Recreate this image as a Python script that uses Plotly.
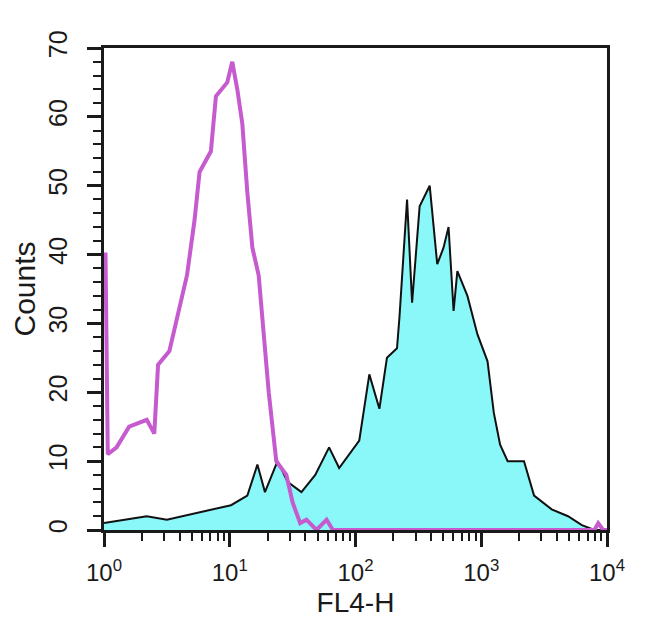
import plotly.graph_objects as go

# log10 of FL4-H channel position and counts
isotype_log = [0.0, 0.012, 0.03, 0.10, 0.20, 0.34, 0.40, 0.43, 0.52, 0.60, 0.66, 0.72, 0.76,
               0.85, 0.89, 0.98, 1.02, 1.06, 1.10, 1.14, 1.18, 1.23, 1.26, 1.31, 1.37,
               1.45, 1.50, 1.56, 1.61, 1.69, 1.77, 1.82, 3.90, 3.93, 3.97, 4.0]
isotype_counts = [40, 40, 11, 12, 15, 16, 14, 24, 26, 32, 37, 45, 52,
                  55, 63, 65, 68, 64, 59, 49, 41, 37, 31, 20, 10,
                  8, 4, 1, 1.5, 0, 1.5, 0, 0, 1, 0, 0]

stained_log = [0.0, 0.18, 0.34, 0.50, 0.74, 1.01, 1.14, 1.22, 1.28, 1.38, 1.46, 1.57, 1.68,
               1.79, 1.87, 2.03, 2.11, 2.19, 2.25, 2.33, 2.35, 2.41, 2.45, 2.51, 2.59,
               2.65, 2.70, 2.74, 2.78, 2.81, 2.89, 2.97, 3.05, 3.10, 3.15, 3.21, 3.34,
               3.42, 3.56, 3.69, 3.80, 3.90, 4.0]
stained_counts = [1, 1.5, 2, 1.5, 2.5, 3.6, 5, 9.5, 5.5, 10, 7, 5.5, 8,
                  12, 9, 13, 22.6, 17.6, 25, 26.4, 31, 48, 33, 47, 50,
                  38.6, 41, 44, 31.8, 37.6, 34, 28.4, 24.5, 17, 12.4, 10, 10,
                  5, 3, 2, 0.7, 0, 0]

x_tickvals = [1, 10, 100, 1000, 10000]
x_ticktext = ["10<sup>0</sup>", "10<sup>1</sup>", "10<sup>2</sup>", "10<sup>3</sup>", "10<sup>4</sup>"]
y_tickvals = [0, 10, 20, 30, 40, 50, 60, 70]

fig = go.Figure()
fig.add_trace(go.Scatter(
    x=[10 ** v for v in stained_log], y=stained_counts,
    mode="lines", fill="tozeroy", fillcolor="#8AF8F8",
    line=dict(color="#111111", width=2), showlegend=False))
fig.add_trace(go.Scatter(
    x=[10 ** v for v in isotype_log], y=isotype_counts,
    mode="lines", line=dict(color="#C65BCF", width=4), showlegend=False))

font = dict(family="Liberation Sans, Arial, sans-serif", color="#1a1a1a")

fig.update_layout(
    width=650, height=633,
    margin=dict(l=96, r=51, t=40, b=111),
    paper_bgcolor="white", plot_bgcolor="white",
    font=font,
    xaxis=dict(
        type="log", range=[0, 4], automargin=False,
        tickvals=x_tickvals, ticktext=x_ticktext,
        tickfont=dict(size=24),
        ticks="outside", ticklen=14, tickwidth=2.5, tickcolor="#1a1a1a",
        minor=dict(ticks="outside", ticklen=8, tickwidth=2, dtick="D1", tickcolor="#1a1a1a"),
        ticklabelstandoff=5,
        showline=True, linecolor="#1a1a1a", linewidth=3, mirror=True,
        showgrid=False, zeroline=False,
        title=dict(text="FL4-H", font=dict(size=28), standoff=8),
    ),
    yaxis=dict(
        range=[0, 70], automargin=False,
        tickvals=y_tickvals,
        tickangle=-90,
        tickfont=dict(size=25),
        ticks="outside", ticklen=14, tickwidth=2.5, tickcolor="#1a1a1a",
        minor=dict(ticks="outside", ticklen=8, tickwidth=2, dtick=2, tickcolor="#1a1a1a"),
        ticklabelstandoff=10,
        showline=True, linecolor="#1a1a1a", linewidth=3, mirror=True,
        showgrid=False, zeroline=False,
        title=dict(text="Counts", font=dict(size=30), standoff=0),
    ),
)

fig.write_html("out.html")
